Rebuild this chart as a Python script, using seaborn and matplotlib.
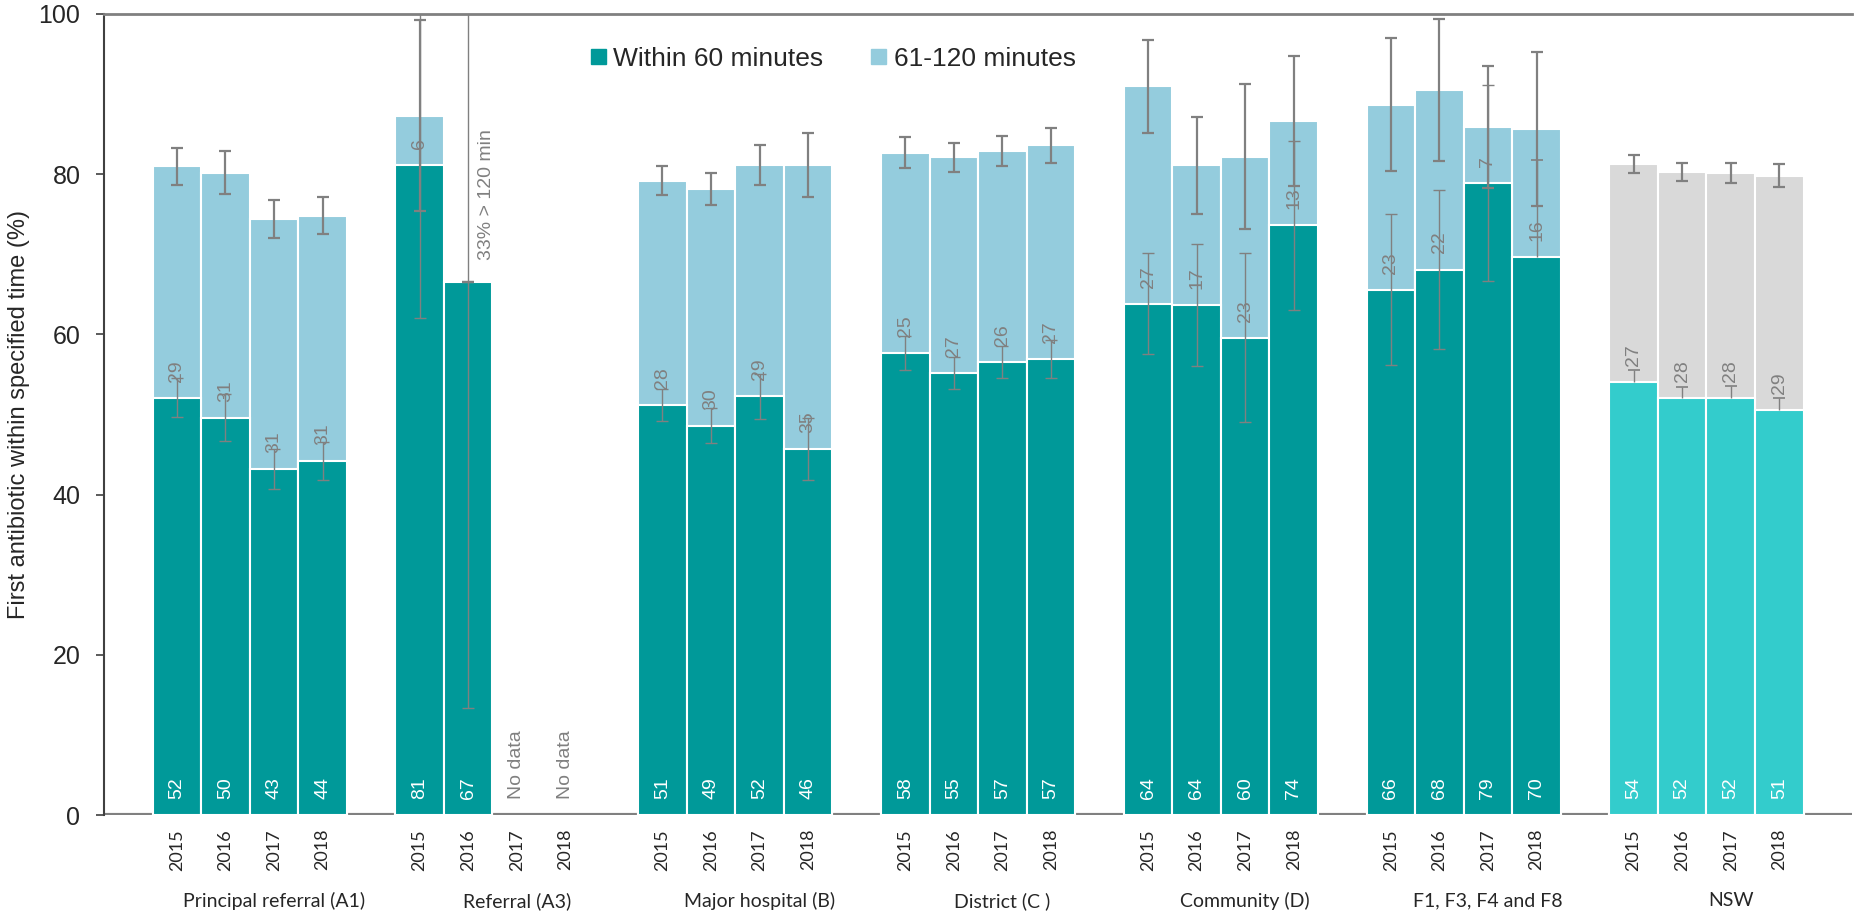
import numpy as np
import pandas as pd
import matplotlib
matplotlib.use("Agg")
import matplotlib.pyplot as plt
import matplotlib.transforms as mtransforms
from matplotlib.patches import Patch
import seaborn as sns

# hospital peer groups and years
groups = ["Principal referral (A1)", "Referral (A3)", "Major hospital (B)", "District (C )",
          "Community (D)", "F1, F3, F4 and F8", "NSW"]
years = ["2015", "2016", "2017", "2018"]

# % first antibiotic within 60 minutes (4 years per group)
within_60 = [52.1, 49.6, 43.2, 44.2,
             81.1, 66.6, np.nan, np.nan,
             51.2, 48.6, 52.3, 45.7,
             57.7, 55.2, 56.6, 56.9,
             63.8, 63.7, 59.6, 73.6,
             65.6, 68.1, 78.9, 69.6,
             54.1, 52.0, 52.0, 50.6]

# % first antibiotic in 61-120 minutes
within_61_120 = [28.9, 30.6, 31.2, 30.6,
                 6.2, 0.0, np.nan, np.nan,
                 28.0, 29.6, 28.8, 35.4,
                 25.0, 26.9, 26.3, 26.7,
                 27.2, 17.4, 22.6, 13.0,
                 23.1, 22.4, 7.0, 16.0,
                 27.2, 28.3, 28.2, 29.2]

# confidence interval half widths, total (within 120 minutes)
total_err = [2.3, 2.7, 2.4, 2.3,
             11.9, 0.0, np.nan, np.nan,
             1.8, 2.0, 2.5, 4.0,
             1.95, 1.8, 1.85, 2.2,
             5.8, 6.1, 9.0, 8.1,
             8.35, 8.85, 7.6, 9.6,
             1.15, 1.15, 1.25, 1.45]

# confidence interval for within 60 minutes (lower / upper)
w60_err_lo = [2.4, 2.9, 2.5, 2.4,
              19.0, 53.3, np.nan, np.nan,
              2.0, 2.2, 2.8, 3.9,
              2.1, 2.0, 2.0, 2.4,
              6.3, 7.6, 10.5, 10.5,
              9.4, 9.9, 12.2, 0.0,
              0.0, 0.0, 0.0, 0.0]
w60_err_hi = [2.4, 2.9, 2.5, 2.4,
              19.0, 53.3, np.nan, np.nan,
              2.0, 2.2, 2.8, 3.9,
              2.1, 2.0, 2.0, 2.4,
              6.3, 7.6, 10.5, 10.5,
              9.4, 9.9, 12.2, 12.2,
              1.5, 1.4, 1.5, 1.5]

teal = "#009999"
light_blue = "#94CCDD"
nsw_cyan = "#33CCCC"
nsw_grey = "#D9D9D9"
err_grey = "#808080"

rows = []
for g, grp in enumerate(groups):
    for j, yr in enumerate(years):
        i = 4 * g + j
        rows.append({"group": grp, "year": yr, "pos": 1 + 5 * g + j,
                     "w60": within_60[i], "w120": within_61_120[i],
                     "tot_err": total_err[i], "lo": w60_err_lo[i], "hi": w60_err_hi[i]})
df = pd.DataFrame(rows)
df["total"] = df["w60"] + df["w120"]
df["kind"] = np.where(df["group"] == "NSW", "nsw", "site")
bars = df.dropna(subset=["w60"]).copy()

sns.set_style("white")
plt.rcParams["font.family"] = ["Liberation Sans", "DejaVu Sans"]

fig = plt.figure(figsize=(18.54, 9.14), dpi=100)
ax = fig.add_axes([0.0561, 0.1083, 0.9429, 0.8764])

ax.axhline(0, color=err_grey, lw=3, zorder=0)

sns.barplot(data=bars, x="pos", y="total", hue="kind", palette={"site": light_blue, "nsw": nsw_grey},
            native_scale=True, width=1.0, dodge=False, edgecolor="white", linewidth=1.5,
            saturation=1, errorbar=None, legend=False, ax=ax, zorder=2)
sns.barplot(data=bars, x="pos", y="w60", hue="kind", palette={"site": teal, "nsw": nsw_cyan},
            native_scale=True, width=1.0, dodge=False, edgecolor="white", linewidth=1.5,
            saturation=1, errorbar=None, legend=False, ax=ax, zorder=3)

# error bars: within 60 minutes (two-sided, or upper only where the lower part is hidden)
both = bars[bars["lo"] > 0]
ax.errorbar(both["pos"], both["w60"], yerr=[both["lo"], both["hi"]], fmt="none",
            ecolor=err_grey, elinewidth=1.0, capsize=4, capthick=1.0, zorder=5)
upper = bars[bars["lo"] == 0]
ax.vlines(upper["pos"], upper["w60"], upper["w60"] + upper["hi"], color=err_grey, lw=1.0, zorder=5)
ax.plot(upper["pos"], upper["w60"] + upper["hi"], ls="none", marker="_", ms=8, mew=1.2,
        color=err_grey, zorder=5)

# error bars: total within 120 minutes
ax.errorbar(bars["pos"], bars["total"], yerr=bars["tot_err"], fmt="none",
            ecolor=err_grey, elinewidth=1.6, capsize=4.5, capthick=1.6, zorder=6)

# value labels
for _, r in df.iterrows():
    if np.isnan(r["w60"]):
        ax.text(r["pos"], 2, "No data", rotation=90, ha="center", va="bottom",
                color=err_grey, fontsize=14, zorder=7)
        continue
    ax.text(r["pos"], 2, f"{r['w60']:.0f}", rotation=90, ha="center", va="bottom",
            color="white", fontsize=14, zorder=7)
    if r["w120"] > 0:
        ax.text(r["pos"], r["w60"] + 2, f"{r['w120']:.0f}", rotation=90, ha="center",
                va="bottom", color=err_grey, fontsize=14, zorder=7)

# note for Referral (A3) 2016
ax.text(7.38, 69.3, "33% > 120 min", rotation=90, ha="center", va="bottom",
        color=err_grey, fontsize=14, zorder=7)

ax.set_xlim(-0.5, 35.5)
ax.set_ylim(0, 100)
ax.set_yticks([0, 20, 40, 60, 80, 100])
ax.tick_params(axis="y", labelsize=18, length=6, width=1.2, color="#404040", left=True, pad=11)
ax.set_ylabel("First antibiotic within specified time (%)", fontsize=17, labelpad=6)

ax.set_xticks(df["pos"])
ax.set_xticklabels(df["year"], rotation=90, fontsize=13, family="Lato")
ax.tick_params(axis="x", length=0, pad=10)
ax.set_xlabel("")

trans = mtransforms.blended_transform_factory(ax.transData, ax.transAxes)
for g, grp in enumerate(groups):
    ax.text(1 + 5 * g + 2, -0.107, grp, transform=trans, ha="center", va="center",
            fontsize=14, family="Lato")

for side in ["right", "bottom"]:
    ax.spines[side].set_visible(False)
ax.spines["top"].set_color(err_grey)
ax.spines["top"].set_linewidth(2)
ax.spines["left"].set_color("#404040")
ax.spines["left"].set_linewidth(1.5)

handles = [Patch(color=teal), Patch(color=light_blue)]
ax.legend(handles, ["Within 60 minutes", "61-120 minutes"], ncol=2, loc="center left",
          bbox_to_anchor=(0.265, 0.944), frameon=False, fontsize=19, handlelength=0.55,
          handleheight=0.55, handletextpad=0.3, columnspacing=1.8)

plt.savefig("out.png", dpi=100)
